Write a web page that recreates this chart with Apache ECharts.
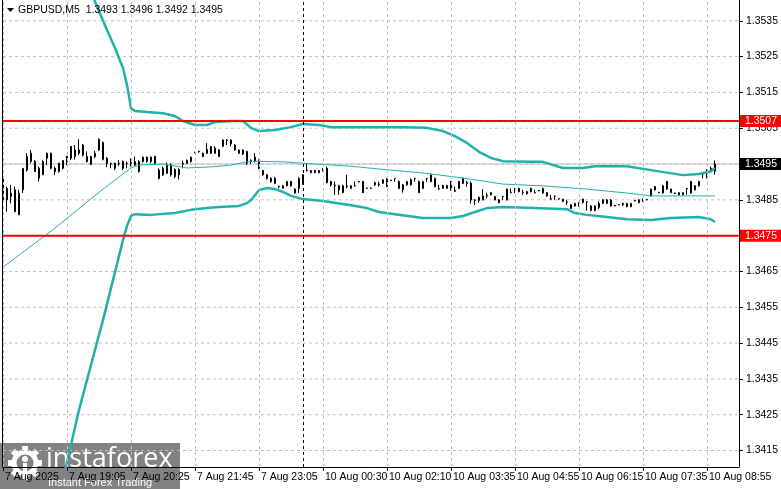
<!DOCTYPE html>
<html>
<head>
<meta charset="utf-8">
<script src="https://cdn.jsdelivr.net/npm/echarts@6/dist/echarts.min.js"></script>
<style>
  html, body { margin: 0; padding: 0; background: #fff; }
  #chart { width: 781px; height: 489px; }
</style>
</head>
<body>
<div id="chart"></div>
<script>
// 标题
const symbolTitle = "GBPUSD,M5";
const lastOhlc = ["1.3493", "1.3496", "1.3492", "1.3495"];

// 时间轴：每16根K线一个标签
const tickLabels = [
  "7 Aug 2025", "7 Aug 19:05", "7 Aug 20:25", "7 Aug 21:45", "7 Aug 23:05",
  "10 Aug 00:30", "10 Aug 02:10", "10 Aug 03:35", "10 Aug 04:55",
  "10 Aug 06:15", "10 Aug 07:35", "10 Aug 08:55",
];
const tickStep = 16;
const slotCount = 185; // 179根K线 + 右侧留白

// 价格轴
const priceTicks = [
  1.3415, 1.3425, 1.3435, 1.3445, 1.3455, 1.3465, 1.3475,
  1.3485, 1.3495, 1.3505, 1.3515, 1.3525, 1.3535,
];
const priceMin = 1.34104;
const priceMax = 1.35408;
const levelLines = [1.3507, 1.3475];
const lastPrice = 1.3495;
const separatorBar = 75;

// K线 [open, close, low, high]
const candles = [
  [1.34910, 1.34850, 1.34845, 1.34915], [1.34882, 1.34850, 1.34817, 1.34887],
  [1.34859, 1.34869, 1.34840, 1.34892], [1.34878, 1.34817, 1.34817, 1.34887],
  [1.34808, 1.34869, 1.34808, 1.34878], [1.34878, 1.34938, 1.34869, 1.34938],
  [1.34933, 1.34971, 1.34929, 1.34980], [1.34980, 1.34957, 1.34952, 1.34989],
  [1.34957, 1.34929, 1.34929, 1.34961], [1.34938, 1.34910, 1.34901, 1.34943],
  [1.34920, 1.34957, 1.34920, 1.34961], [1.34980, 1.34966, 1.34947, 1.34982],
  [1.34980, 1.34938, 1.34935, 1.34982], [1.34938, 1.34929, 1.34920, 1.34943],
  [1.34929, 1.34952, 1.34926, 1.34954], [1.34938, 1.34960, 1.34935, 1.34961],
  [1.34971, 1.34957, 1.34947, 1.34973], [1.34966, 1.34999, 1.34961, 1.35000],
  [1.34989, 1.34971, 1.34963, 1.35003], [1.34980, 1.34989, 1.34975, 1.35019],
  [1.35003, 1.34975, 1.34971, 1.35006], [1.34971, 1.34957, 1.34954, 1.34985],
  [1.34971, 1.34949, 1.34947, 1.34973], [1.34971, 1.34980, 1.34966, 1.34987],
  [1.34989, 1.35019, 1.34987, 1.35022], [1.35010, 1.34963, 1.34960, 1.35013],
  [1.34966, 1.34952, 1.34941, 1.34969], [1.34951, 1.34950, 1.34938, 1.34954],
  [1.34952, 1.34938, 1.34933, 1.34954], [1.34952, 1.34951, 1.34945, 1.34961],
  [1.34957, 1.34938, 1.34933, 1.34960], [1.34951, 1.34952, 1.34938, 1.34957],
  [1.34954, 1.34952, 1.34943, 1.34966], [1.34947, 1.34957, 1.34945, 1.34971],
  [1.34929, 1.34957, 1.34926, 1.34961], [1.34969, 1.34957, 1.34954, 1.34971],
  [1.34969, 1.34957, 1.34954, 1.34971], [1.34969, 1.34957, 1.34952, 1.34971],
  [1.34971, 1.34952, 1.34947, 1.34973], [1.34933, 1.34910, 1.34907, 1.34938],
  [1.34920, 1.34938, 1.34917, 1.34943], [1.34924, 1.34947, 1.34922, 1.34954],
  [1.34947, 1.34920, 1.34915, 1.34952], [1.34935, 1.34915, 1.34910, 1.34938],
  [1.34935, 1.34920, 1.34907, 1.34938], [1.34950, 1.34952, 1.34938, 1.34960],
  [1.34952, 1.34960, 1.34950, 1.34963], [1.34957, 1.34969, 1.34954, 1.34971],
  [1.34982, 1.34983, 1.34980, 1.34984], [1.34985, 1.34984, 1.34982, 1.34987],
  [1.34980, 1.34971, 1.34969, 1.34982], [1.34980, 1.34991, 1.34978, 1.35008],
  [1.34980, 1.34999, 1.34978, 1.35000], [1.34994, 1.34980, 1.34978, 1.35000],
  [1.34971, 1.34989, 1.34969, 1.34991], [1.34999, 1.35017, 1.34997, 1.35019],
  [1.35015, 1.35017, 1.35003, 1.35019], [1.35017, 1.35006, 1.34999, 1.35019],
  [1.35003, 1.34989, 1.34987, 1.35006], [1.34989, 1.34980, 1.34978, 1.34991],
  [1.34989, 1.34978, 1.34975, 1.34991], [1.34985, 1.34952, 1.34947, 1.34987],
  [1.34960, 1.34957, 1.34950, 1.34963], [1.34969, 1.34957, 1.34954, 1.34980],
  [1.34961, 1.34938, 1.34935, 1.34963], [1.34932, 1.34920, 1.34917, 1.34933],
  [1.34910, 1.34920, 1.34906, 1.34922], [1.34910, 1.34901, 1.34898, 1.34913],
  [1.34910, 1.34896, 1.34894, 1.34913], [1.34887, 1.34888, 1.34882, 1.34889],
  [1.34882, 1.34889, 1.34881, 1.34891], [1.34901, 1.34890, 1.34887, 1.34903],
  [1.34901, 1.34889, 1.34887, 1.34903], [1.34880, 1.34869, 1.34867, 1.34882],
  [1.34882, 1.34910, 1.34869, 1.34913], [1.34896, 1.34920, 1.34892, 1.34922],
  [1.34932, 1.34933, 1.34929, 1.34952], [1.34926, 1.34932, 1.34924, 1.34933],
  [1.34926, 1.34932, 1.34924, 1.34934], [1.34926, 1.34932, 1.34924, 1.34933],
  [1.34932, 1.34933, 1.34929, 1.34938], [1.34938, 1.34898, 1.34896, 1.34943],
  [1.34892, 1.34901, 1.34887, 1.34903], [1.34889, 1.34891, 1.34864, 1.34901],
  [1.34889, 1.34878, 1.34864, 1.34892], [1.34870, 1.34889, 1.34869, 1.34892],
  [1.34887, 1.34889, 1.34882, 1.34920], [1.34882, 1.34889, 1.34881, 1.34891],
  [1.34889, 1.34890, 1.34887, 1.34901], [1.34901, 1.34900, 1.34899, 1.34902],
  [1.34901, 1.34870, 1.34869, 1.34903], [1.34882, 1.34883, 1.34881, 1.34884],
  [1.34882, 1.34883, 1.34881, 1.34884], [1.34892, 1.34898, 1.34889, 1.34901],
  [1.34892, 1.34894, 1.34887, 1.34901], [1.34896, 1.34906, 1.34894, 1.34907],
  [1.34887, 1.34910, 1.34885, 1.34911], [1.34904, 1.34905, 1.34903, 1.34906],
  [1.34909, 1.34910, 1.34901, 1.34911], [1.34901, 1.34882, 1.34880, 1.34904],
  [1.34892, 1.34878, 1.34870, 1.34894], [1.34892, 1.34901, 1.34889, 1.34903],
  [1.34892, 1.34906, 1.34890, 1.34910], [1.34909, 1.34910, 1.34901, 1.34911],
  [1.34901, 1.34870, 1.34869, 1.34904], [1.34882, 1.34901, 1.34880, 1.34903],
  [1.34909, 1.34910, 1.34901, 1.34911], [1.34901, 1.34920, 1.34899, 1.34921],
  [1.34887, 1.34910, 1.34885, 1.34912], [1.34880, 1.34881, 1.34878, 1.34892],
  [1.34882, 1.34890, 1.34881, 1.34892], [1.34882, 1.34890, 1.34881, 1.34892],
  [1.34901, 1.34878, 1.34876, 1.34903], [1.34876, 1.34874, 1.34872, 1.34887],
  [1.34882, 1.34901, 1.34880, 1.34903], [1.34910, 1.34896, 1.34894, 1.34913],
  [1.34896, 1.34898, 1.34887, 1.34903], [1.34896, 1.34850, 1.34840, 1.34901],
  [1.34848, 1.34850, 1.34836, 1.34852], [1.34848, 1.34857, 1.34842, 1.34859],
  [1.34850, 1.34861, 1.34848, 1.34880], [1.34861, 1.34863, 1.34854, 1.34870],
  [1.34864, 1.34870, 1.34862, 1.34872], [1.34859, 1.34850, 1.34848, 1.34861],
  [1.34842, 1.34850, 1.34840, 1.34852], [1.34859, 1.34860, 1.34850, 1.34861],
  [1.34850, 1.34880, 1.34848, 1.34882], [1.34870, 1.34871, 1.34869, 1.34882],
  [1.34881, 1.34882, 1.34869, 1.34883], [1.34873, 1.34882, 1.34871, 1.34884],
  [1.34870, 1.34871, 1.34864, 1.34878], [1.34867, 1.34873, 1.34865, 1.34875],
  [1.34882, 1.34873, 1.34871, 1.34884], [1.34869, 1.34870, 1.34869, 1.34878],
  [1.34876, 1.34875, 1.34874, 1.34877], [1.34869, 1.34882, 1.34867, 1.34884],
  [1.34870, 1.34861, 1.34859, 1.34872], [1.34852, 1.34853, 1.34850, 1.34864],
  [1.34860, 1.34861, 1.34850, 1.34862], [1.34853, 1.34852, 1.34851, 1.34854],
  [1.34845, 1.34852, 1.34844, 1.34853], [1.34843, 1.34844, 1.34836, 1.34850],
  [1.34836, 1.34826, 1.34825, 1.34838], [1.34833, 1.34840, 1.34831, 1.34842],
  [1.34841, 1.34842, 1.34831, 1.34843], [1.34842, 1.34852, 1.34840, 1.34853],
  [1.34844, 1.34845, 1.34820, 1.34846], [1.34820, 1.34833, 1.34818, 1.34835],
  [1.34820, 1.34833, 1.34818, 1.34835], [1.34829, 1.34840, 1.34824, 1.34845],
  [1.34840, 1.34850, 1.34838, 1.34852], [1.34840, 1.34850, 1.34838, 1.34852],
  [1.34833, 1.34848, 1.34831, 1.34852], [1.34834, 1.34833, 1.34832, 1.34835],
  [1.34836, 1.34837, 1.34835, 1.34838], [1.34836, 1.34840, 1.34833, 1.34842],
  [1.34831, 1.34840, 1.34829, 1.34842], [1.34831, 1.34840, 1.34829, 1.34841],
  [1.34848, 1.34847, 1.34846, 1.34849], [1.34842, 1.34850, 1.34840, 1.34852],
  [1.34846, 1.34847, 1.34845, 1.34854], [1.34850, 1.34851, 1.34849, 1.34852],
  [1.34861, 1.34880, 1.34859, 1.34881], [1.34887, 1.34878, 1.34876, 1.34889],
  [1.34870, 1.34871, 1.34869, 1.34872], [1.34869, 1.34889, 1.34867, 1.34891],
  [1.34901, 1.34880, 1.34878, 1.34903], [1.34870, 1.34880, 1.34869, 1.34881],
  [1.34869, 1.34868, 1.34867, 1.34870], [1.34864, 1.34870, 1.34862, 1.34871],
  [1.34864, 1.34870, 1.34862, 1.34871], [1.34881, 1.34882, 1.34864, 1.34883],
  [1.34869, 1.34901, 1.34867, 1.34903], [1.34889, 1.34878, 1.34876, 1.34891],
  [1.34889, 1.34901, 1.34887, 1.34903], [1.34922, 1.34923, 1.34910, 1.34924],
  [1.34933, 1.34924, 1.34910, 1.34935], [1.34938, 1.34930, 1.34926, 1.34943],
  [1.34930, 1.34950, 1.34920, 1.34960],
];

// 布林带上轨 [K线序号, 价格]
const upperBand = [
  [22, 1.35436], [23, 1.35403], [26, 1.35324], [28, 1.35274], [30, 1.35218],
  [31, 1.35171], [32, 1.35106], [33, 1.35098], [36, 1.35095], [40, 1.35092],
  [43, 1.35084], [45, 1.35070], [48, 1.35059], [51, 1.35059], [53, 1.35067],
  [57, 1.35070], [60, 1.35070], [62, 1.35051], [64, 1.35042], [68, 1.35045],
  [72, 1.35053], [75, 1.35062], [79, 1.35059], [82, 1.35053], [90, 1.35053],
  [100, 1.35053], [106, 1.35051], [110, 1.35042], [113, 1.35028], [116, 1.35009],
  [119, 1.34984], [122, 1.34967], [125, 1.34958], [132, 1.34956], [135, 1.34956],
  [140, 1.34939], [145, 1.34939], [148, 1.34944], [156, 1.34944], [162, 1.34933],
  [170, 1.34919], [174, 1.34922], [177, 1.34930], [178, 1.34939],
];
// 布林带下轨
const lowerBand = [
  [15, 1.34067], [16, 1.34118], [19, 1.34263], [22, 1.34389], [25, 1.34514],
  [28, 1.34648], [30, 1.34738], [31, 1.34777], [32, 1.34805], [33, 1.34810],
  [37, 1.34808], [43, 1.34813], [47, 1.34822], [51, 1.34827], [54, 1.34830],
  [59, 1.34833], [61, 1.34841], [62, 1.34849], [64, 1.34877], [66, 1.34883],
  [68, 1.34880], [70, 1.34872], [72, 1.34861], [75, 1.34852], [80, 1.34847],
  [87, 1.34835], [91, 1.34827], [94, 1.34816], [98, 1.34810], [105, 1.34799],
  [112, 1.34799], [115, 1.34805], [118, 1.34816], [121, 1.34827], [125, 1.34830],
  [133, 1.34827], [141, 1.34824], [143, 1.34813], [146, 1.34808], [151, 1.34802],
  [156, 1.34796], [162, 1.34794], [167, 1.34799], [174, 1.34802], [177, 1.34796],
  [178, 1.34788],
];
// 均线
const movingAvg = [
  [0, 1.34662], [13, 1.34771], [25, 1.34880], [32, 1.34939], [34, 1.34947],
  [40, 1.34950], [46, 1.34939], [52, 1.34942], [57, 1.34947], [62, 1.34958],
  [70, 1.34956], [78, 1.34950], [87, 1.34944], [94, 1.34936], [105, 1.34925],
  [115, 1.34911], [125, 1.34894], [135, 1.34889], [146, 1.34880], [156, 1.34869],
  [162, 1.34861], [178, 1.34861],
];

const categories = Array.from({ length: slotCount }, (_, i) => String(i));
const isTick = (i) => i % tickStep === 0 && i / tickStep < tickLabels.length;
const fmt = (v) => Number(v).toFixed(4);
const font = "Liberation Sans";
const teal = "#20b2aa";

// 横贯整个图的水平线
const hLine = (p, color, width, type, z) => ({
  type: "line",
  data: [[0, p], [slotCount - 1, p]],
  z,
  silent: true,
  showSymbol: false,
  lineStyle: { color, width, type },
});

// 带右侧色块标签的价位线
const levelSeries = (p, color, bg, width, z) => ({
  ...hLine(p, color, width, "solid", z),
  clip: false,
  endLabel: {
    show: true,
    distance: 1,
    formatter: () => fmt(p),
    color: "#fff",
    backgroundColor: bg,
    padding: [1, 8, 0, 5],
    fontFamily: font,
    fontSize: 10.5,
  },
});

// 齿轮图标
const gearTeeth = Array.from({ length: 8 }, (_, k) => ({
  type: "rect",
  x: 25,
  y: 20,
  rotation: (k * Math.PI) / 4,
  shape: { x: -3, y: -17, width: 6, height: 6 },
  style: { fill: "#fff" },
}));

const chart = echarts.init(document.getElementById("chart"));
chart.setOption({
  animation: false,
  backgroundColor: "#fff",
  grid: { left: 3, right: 41, top: 0, bottom: 22 },
  xAxis: {
    type: "category",
    data: categories,
    boundaryGap: false,
    axisLine: { lineStyle: { color: "#000", width: 1 } },
    axisTick: { interval: (i) => isTick(i), length: 4, lineStyle: { color: "#000" } },
    axisLabel: {
      interval: (i) => isTick(i),
      formatter: (v, i) => tickLabels[i / tickStep],
      align: "left",
      padding: [0, 0, 0, 2],
      margin: 5,
      color: "#000",
      fontFamily: font,
      fontSize: 10.5,
    },
    splitLine: { show: false },
  },
  yAxis: {
    type: "value",
    position: "right",
    min: priceMin,
    max: priceMax,
    axisLine: { show: true, lineStyle: { color: "#000", width: 1 } },
    axisTick: { show: true, customValues: priceTicks, length: 4, lineStyle: { color: "#000" } },
    axisLabel: {
      customValues: priceTicks,
      formatter: fmt,
      margin: 7,
      color: "#000",
      fontFamily: font,
      fontSize: 10.5,
    },
    splitLine: { show: false },
  },
  graphic: [
    { type: "line", shape: { x1: 2.5, y1: 0, x2: 2.5, y2: 467 }, style: { stroke: "#000", lineWidth: 1 }, z: 50 },
    { type: "polygon", shape: { points: [[7, 8], [14, 8], [10.5, 12]] }, style: { fill: "#000" }, z: 50 },
    {
      type: "text",
      x: 18,
      y: 10,
      style: {
        text: symbolTitle + "  " + lastOhlc.join(" "),
        fill: "#000",
        font: "10.5px " + font,
        verticalAlign: "middle",
      },
      z: 50,
    },
    {
      type: "group",
      x: 0,
      y: 443,
      z: 100,
      children: [
        { type: "rect", shape: { x: 0, y: 0, width: 180, height: 46 }, style: { fill: "rgba(95,95,95,0.78)" } },
        { type: "circle", shape: { cx: 25, cy: 20, r: 11 }, style: { fill: "none", stroke: "#fff", lineWidth: 5 } },
        ...gearTeeth,
        { type: "circle", shape: { cx: 25, cy: 16, r: 3 }, style: { fill: "#fff" } },
        { type: "rect", shape: { x: 23, y: 20, width: 4, height: 11 }, style: { fill: "#fff" } },
        {
          type: "text",
          x: 46,
          y: 16,
          style: { text: "instaforex", fill: "#fff", font: "27px 'Open Sans'", verticalAlign: "middle" },
        },
        {
          type: "text",
          x: 48,
          y: 40,
          style: { text: "Instant Forex Trading", fill: "#fff", font: "11px " + font, verticalAlign: "middle" },
        },
      ],
    },
  ],
  series: [
    // 水平网格
    ...priceTicks.map((p) => hLine(p, "#c0c0c0", 1, [3, 3], 1)),
    {
      // 垂直网格与日分隔线
      type: "line",
      data: [],
      z: 1,
      silent: true,
      markLine: {
        silent: true,
        symbol: ["none", "none"],
        label: { show: false },
        data: [
          ...tickLabels.map((_, k) => ({
            xAxis: k * tickStep,
            lineStyle: { color: "#c0c0c0", type: [3, 3], width: 1 },
          })),
          { xAxis: separatorBar, lineStyle: { color: "#000", type: [3, 3], width: 1 } },
        ],
      },
    },
    levelSeries(lastPrice, "#c0c0c0", "#000", 1, 2),
    {
      type: "candlestick",
      data: candles,
      barWidth: 2,
      z: 3,
      itemStyle: {
        color: "#fff",
        color0: "#000",
        borderColor: "#000",
        borderColor0: "#000",
        borderWidth: 1,
      },
    },
    ...levelLines.map((p) => levelSeries(p, "#ff0000", "#ff0000", 2, 5)),
    {
      type: "line",
      data: upperBand,
      showSymbol: false,
      z: 4,
      lineStyle: { color: teal, width: 2.5 },
    },
    {
      type: "line",
      data: lowerBand,
      showSymbol: false,
      z: 4,
      lineStyle: { color: teal, width: 2.5 },
    },
    {
      type: "line",
      data: movingAvg,
      showSymbol: false,
      z: 4,
      lineStyle: { color: teal, width: 1 },
    },
  ],
});
</script>
</body>
</html>
